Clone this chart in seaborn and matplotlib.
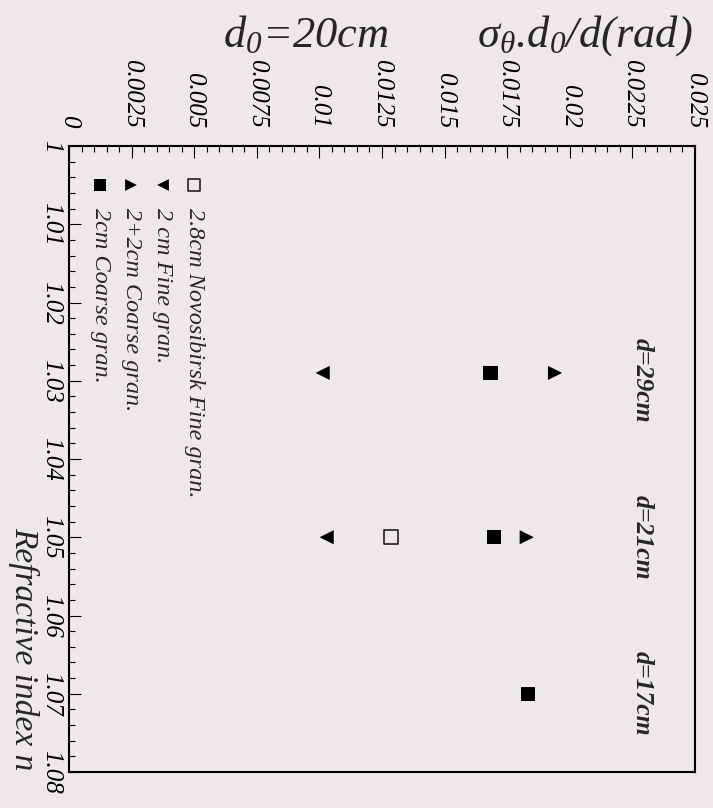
import numpy as np
import pandas as pd
import matplotlib
matplotlib.use("Agg")
import matplotlib.pyplot as plt
import seaborn as sns

# ---------------- data ----------------
series_names = ["2.8cm Novosibirsk Fine gran.",
                "2 cm Fine gran.",
                "2+2cm Coarse gran.",
                "2cm Coarse gran."]
nov_n = [1.05]
nov_sigma = [0.01286]
fine_n = [1.029, 1.05]
fine_sigma = [0.01013, 0.01029]
coarse22_n = [1.029, 1.05]
coarse22_sigma = [0.01941, 0.01828]
coarse2_n = [1.029, 1.05, 1.07]
coarse2_sigma = [0.01683, 0.01696, 0.01832]

distance_labels = ["d=29cm", "d=21cm", "d=17cm"]
distance_n = [1.03, 1.05, 1.07]

x_ticks = [0, 0.0025, 0.005, 0.0075, 0.01, 0.0125, 0.015, 0.0175, 0.02, 0.0225, 0.025]
x_ticklabels = ["0", "0.0025", "0.005", "0.0075", "0.01", "0.0125", "0.015",
                "0.0175", "0.02", "0.0225", "0.025"]
y_ticks = [1.00, 1.01, 1.02, 1.03, 1.04, 1.05, 1.06, 1.07, 1.08]
y_ticklabels = ["1", "1.01", "1.02", "1.03", "1.04", "1.05", "1.06", "1.07", "1.08"]

df = pd.concat([
    pd.DataFrame({"sigma": nov_sigma, "n": nov_n, "series": series_names[0]}),
    pd.DataFrame({"sigma": fine_sigma, "n": fine_n, "series": series_names[1]}),
    pd.DataFrame({"sigma": coarse22_sigma, "n": coarse22_n, "series": series_names[2]}),
    pd.DataFrame({"sigma": coarse2_sigma, "n": coarse2_n, "series": series_names[3]}),
], ignore_index=True)

# ---------------- style ----------------
BG = "#ece9e8"
sns.set_theme(style="ticks")
plt.rcParams.update({
    "font.family": ["Liberation Serif", "DejaVu Serif"],
    "font.style": "italic",
    "mathtext.fontset": "custom",
    "mathtext.rm": "Liberation Serif",
    "mathtext.it": "Liberation Serif:italic",
    "mathtext.bf": "Liberation Serif:bold",
    "figure.facecolor": BG,
    "axes.facecolor": BG,
    "savefig.facecolor": BG,
})

fig = plt.figure(figsize=(7.13, 8.08), dpi=100)
ax = fig.add_axes([69 / 713, 1 - 772 / 808, 626 / 713, 626 / 808])

styles = {
    series_names[0]: dict(marker="s", facecolor="none", edgecolor="#222222", linewidth=1.2),
    series_names[1]: dict(marker="<", color="black", edgecolor="none", linewidth=0),
    series_names[2]: dict(marker=">", color="black", edgecolor="none", linewidth=0),
    series_names[3]: dict(marker="s", color="black", edgecolor="none", linewidth=0),
}
for name in series_names:
    sub = df[df["series"] == name]
    kw = styles[name]
    sns.scatterplot(data=sub, x="sigma", y="n", s=104, ax=ax, legend=False, zorder=3, **kw)

ax.set_xlim(0, 0.025)
ax.set_ylim(1.08, 1.00)

ax.xaxis.tick_top()
ax.set_xticks(x_ticks)
ax.set_xticklabels(x_ticklabels)
ax.set_xticks(np.arange(0, 0.02501, 0.0005), minor=True)
ax.set_yticks(y_ticks)
ax.set_yticklabels(y_ticklabels)
ax.set_yticks(np.arange(1.0, 1.0801, 0.002), minor=True)

ax.tick_params(axis="x", which="both", top=True, bottom=False, labeltop=True,
               labelbottom=False, direction="in", labelrotation=270, colors="black")
ax.tick_params(axis="y", which="both", left=True, right=False, direction="in",
               labelrotation=270, colors="black")
ax.tick_params(axis="x", which="major", length=8.6, width=0.8, pad=13, labelsize=18)
ax.tick_params(axis="x", which="minor", length=4.3, width=0.8)
ax.tick_params(axis="y", which="major", length=8.6, width=0.8, pad=5, labelsize=18)
ax.tick_params(axis="y", which="minor", length=4.3, width=0.8)
for lab in ax.get_xticklabels():
    lab.set_va("bottom")
    lab.set_ha("center")
for lab in ax.get_yticklabels():
    lab.set_ha("right")
    lab.set_va("center")

for sp in ax.spines.values():
    sp.set_visible(True)
    sp.set_linewidth(1.5)
    sp.set_color("black")

ax.set_xlabel("")
ax.set_ylabel("")

# axis title (rotated)
ax.text(-0.072, 0.003, "Refractive index n", transform=ax.transAxes, rotation=270,
        ha="center", va="bottom", fontsize=24)

# distance annotations
for lab, nv in zip(distance_labels, distance_n):
    ax.text(0.02288, nv, lab, rotation=270, ha="center", va="center",
            fontsize=18.5, fontweight="bold")

# header texts
fig.text(223 / 713, 1 - 47 / 808, r"d$_{\mathit{0}}$=20cm", fontsize=32,
         ha="left", va="baseline")
fig.text(693 / 713, 1 - 47 / 808,
         r"$\mathrm{\sigma}_{\mathrm{\theta}}$.d$_{\mathit{0}}$/d(rad)",
         fontsize=32, ha="right", va="baseline")

# manual legend (rotated)
legend_x = [194, 163, 131, 100]
for name, lx in zip(series_names, legend_x):
    kw = dict(styles[name])
    xa = (lx - 69) / 626
    ax.scatter([xa], [1 - 39 / 626], s=72, transform=ax.transAxes, zorder=4,
               clip_on=False, **kw)
    ax.text(xa, 1 - 62 / 626, name, transform=ax.transAxes, rotation=270,
            ha="center", va="top", fontsize=17.5)

fig.savefig("out.png", dpi=100)
